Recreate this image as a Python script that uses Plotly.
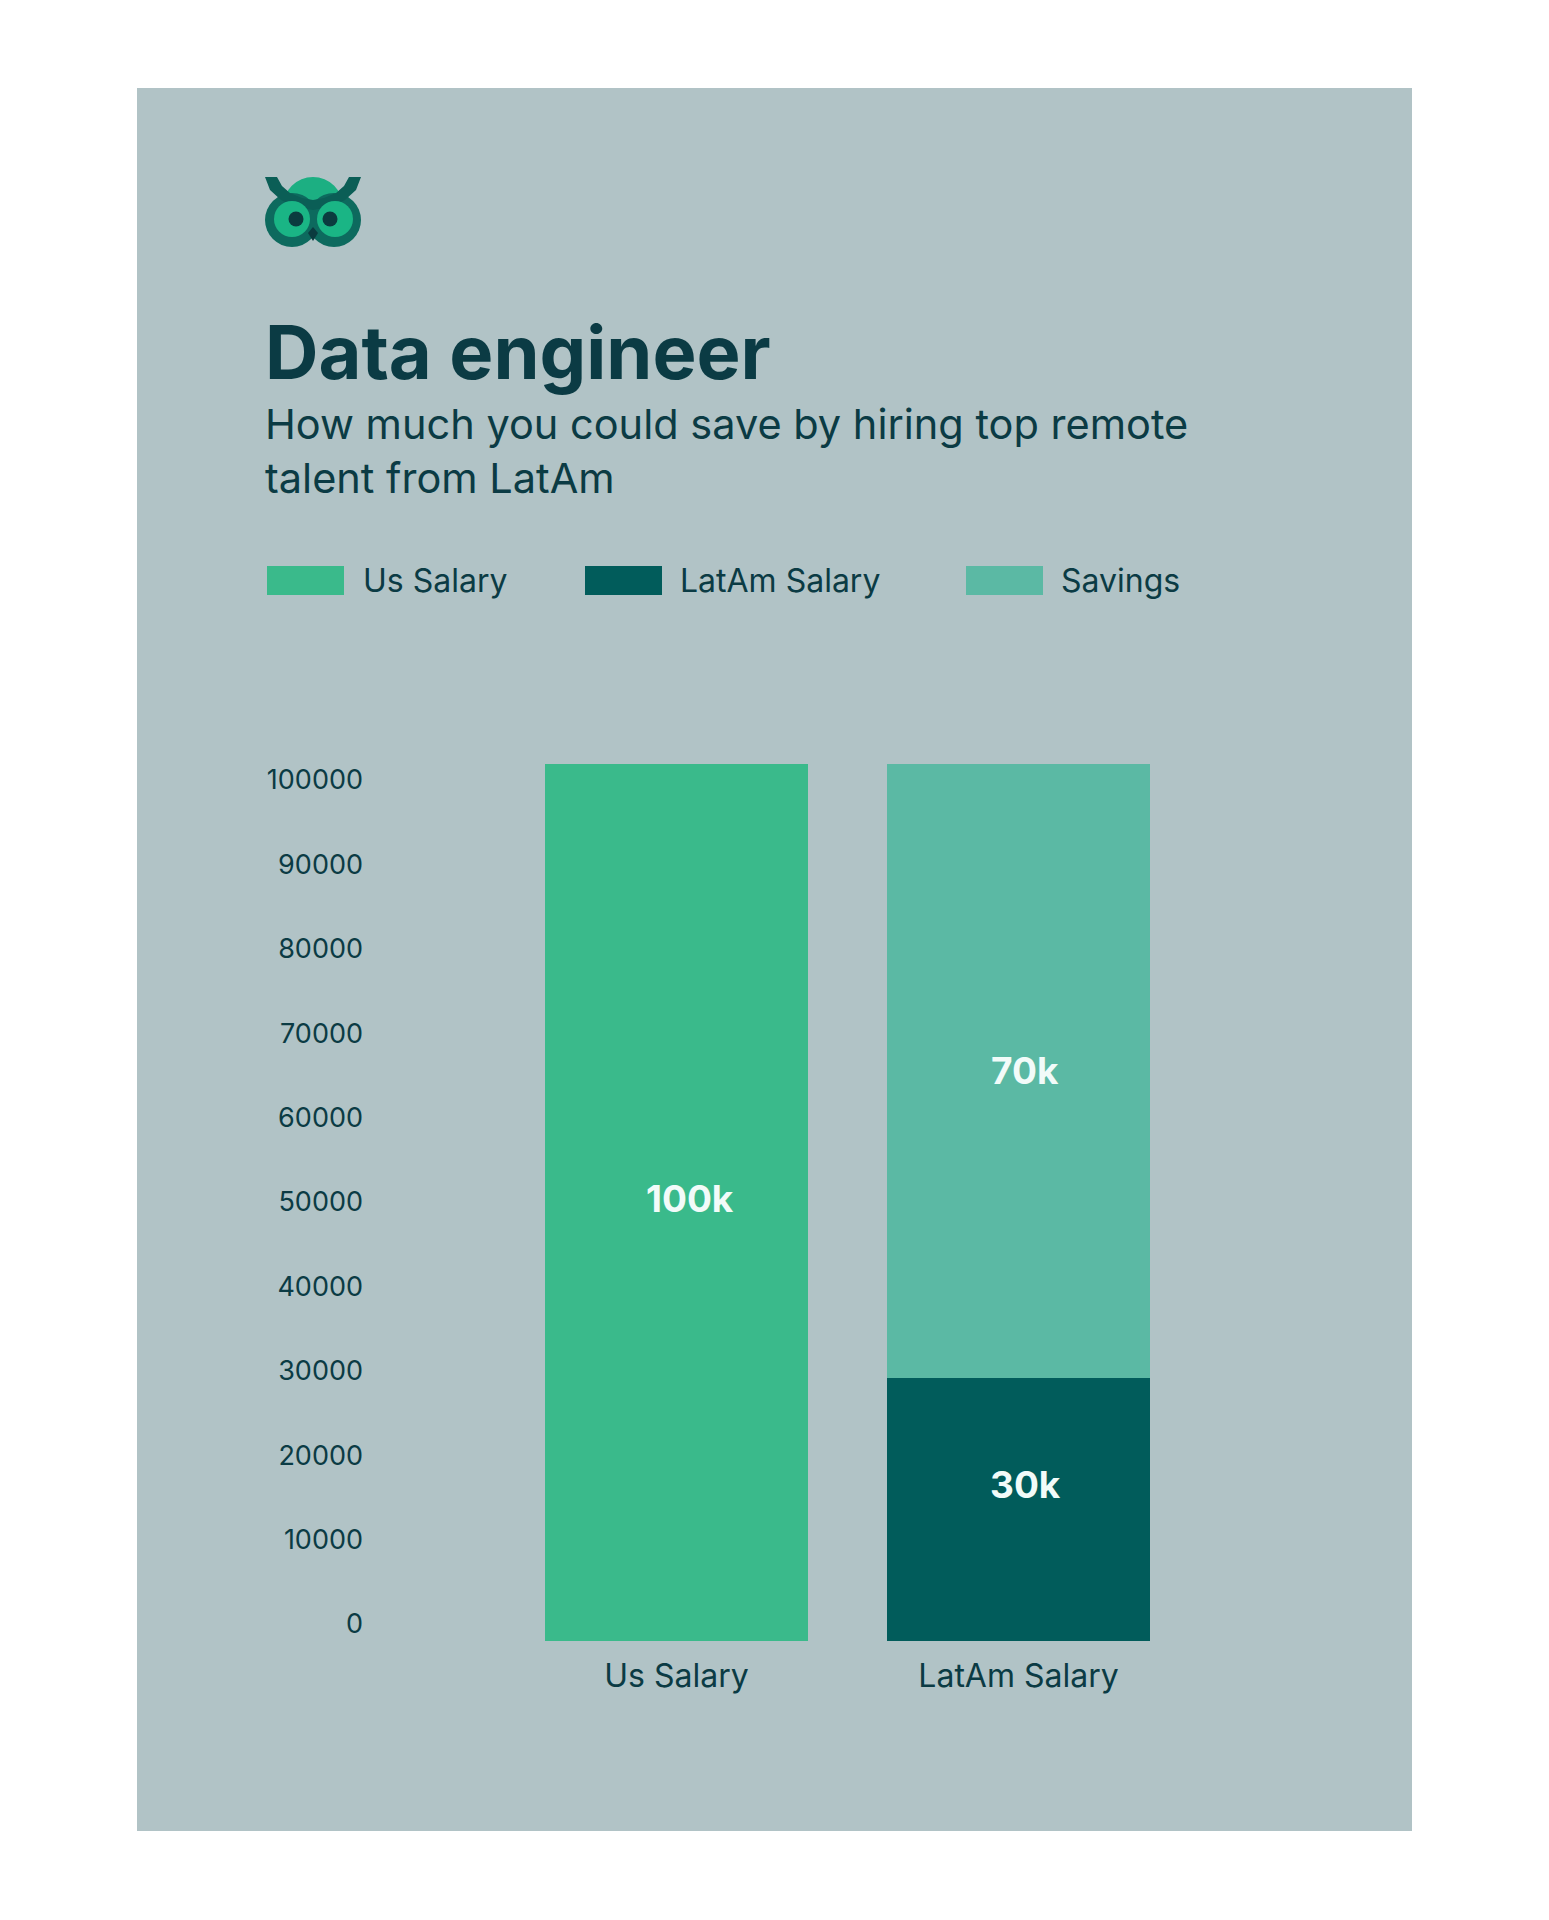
import plotly.graph_objects as go

# chart data
categories = ["Us Salary", "LatAm Salary"]
us_salary = [100000]
latam_salary = [30000]
savings = [70000]
us_text = ["100k"]
latam_text = ["30k"]
savings_text = ["70k"]
y_ticks = [0, 10000, 20000, 30000, 40000, 50000, 60000, 70000, 80000, 90000, 100000]
legend_names = ["Us Salary", "LatAm Salary", "Savings"]

# colours
PANEL = "#b1c3c6"
C_US = "#3aba8b"
C_LATAM = "#015c5b"
C_SAV = "#5bb9a4"
INK = "#0b3b44"
FONT = "Inter"

# figure sits inside the page's 8px body margin
W, H, OFF = 1533, 1904, 8


def px(x):
    return (x - OFF) / W


def py(y):
    return 1 - (y - OFF) / H


def path(points):
    return "M " + " L ".join(f"{px(x):.5f},{py(y):.5f}" for x, y in points) + " Z"


def circle(cx, cy, r, color):
    return dict(type="circle", xref="paper", yref="paper", layer="above",
                x0=px(cx - r), x1=px(cx + r), y0=py(cy + r), y1=py(cy - r),
                fillcolor=color, line_width=0)


fig = go.Figure()
fig.add_trace(go.Bar(x=[categories[0]], y=us_salary, name=legend_names[0], marker_color=C_US))
fig.add_trace(go.Bar(x=[categories[1]], y=latam_salary, name=legend_names[1], marker_color=C_LATAM))
fig.add_trace(go.Bar(x=[categories[1]], y=savings, name=legend_names[2], marker_color=C_SAV))
fig.update_traces(marker_line_width=0, hoverinfo="skip")
# carrier for the tick axis
fig.add_trace(go.Scatter(x=[], y=[], yaxis="y2", showlegend=False, hoverinfo="skip"))

# plot area in page pixels
plot_l, plot_r, plot_t, plot_b = 380, 1360, 764, 1641
c0, c1 = 676.5, 1018.5          # bar centres
step = c1 - c0
tick0_y, tick100_y = 1624, 780   # where labels 0 and 100000 sit
per_px = (y_ticks[-1] - y_ticks[0]) / (tick0_y - tick100_y)

shapes = [dict(type="rect", xref="paper", yref="paper", layer="below",
               x0=px(137), x1=px(1412), y0=py(1831), y1=py(88),
               fillcolor=PANEL, line_width=0)]

# value labels, placed at segment middles (a little off-centre as in the source)
bar_font = dict(family=FONT, size=37, color="#f2fbf9", weight=700)
annotations = [
    dict(text=us_text[0], x=categories[0], y=us_salary[0] / 2, xshift=13, yshift=4,
         showarrow=False, font=bar_font),
    dict(text=latam_text[0], x=categories[1], y=latam_salary[0] / 2, xshift=7, yshift=25,
         showarrow=False, font=bar_font),
    dict(text=savings_text[0], x=categories[1], y=latam_salary[0] + savings[0] / 2, xshift=6,
         showarrow=False, font=bar_font),
]

# legend swatches + labels
leg_sw = [267, 585, 966]
leg_tx = [361, 678, 1059]
for name, col, sx, tx in zip(legend_names, [C_US, C_LATAM, C_SAV], leg_sw, leg_tx):
    shapes.append(dict(type="rect", xref="paper", yref="paper", layer="above",
                       x0=px(sx), x1=px(sx + 77), y0=py(595), y1=py(566),
                       fillcolor=col, line_width=0))
    annotations.append(dict(text=name, x=px(tx), y=py(580), xref="paper", yref="paper",
                            xanchor="left", yanchor="middle", showarrow=False,
                            font=dict(family=FONT, size=32, color=INK)))

# owl logo
shapes += [
    circle(313, 207, 30, "#1caf82"),
    circle(292, 220, 27, "#0d6a5e"),
    circle(334, 220, 27, "#0d6a5e"),
    dict(type="path", xref="paper", yref="paper", layer="above", line_width=0, fillcolor="#0b5e56",
         path=path([(265, 177), (277, 177), (282, 186), (290, 193), (302, 198), (313, 200),
                    (313, 210), (296, 207), (281, 200), (270, 190)])),
    dict(type="path", xref="paper", yref="paper", layer="above", line_width=0, fillcolor="#0b5e56",
         path=path([(361, 177), (349, 177), (344, 186), (336, 193), (324, 198), (313, 200),
                    (313, 210), (330, 207), (345, 200), (356, 190)])),
    circle(292, 219, 18, "#1ab585"),
    circle(335, 219, 18, "#1ab585"),
    circle(296, 219, 7.5, "#0b3b3f"),
    circle(330, 219, 7.5, "#0b3b3f"),
    dict(type="path", xref="paper", yref="paper", layer="above", line_width=0, fillcolor="#0b3b3f",
         path=path([(313, 227), (318, 233), (313, 241), (308, 233)])),
]

annotations += [
    dict(text="Data engineer", x=px(263), y=py(352), xref="paper", yref="paper",
         xanchor="left", yanchor="middle", showarrow=False,
         font=dict(family=FONT, size=74, color=INK, weight=700)),
    dict(text="How much you could save by hiring top remote<br>talent from LatAm",
         x=px(263), y=py(451), xref="paper", yref="paper", align="left",
         xanchor="left", yanchor="middle", showarrow=False,
         font=dict(family=FONT, size=41.5, color=INK)),
]

fig.update_layout(
    width=W, height=H,
    margin=dict(l=0, r=0, t=0, b=0),
    paper_bgcolor="white",
    plot_bgcolor="rgba(0,0,0,0)",
    barmode="stack",
    bargap=0.23,
    showlegend=False,
    shapes=shapes,
    annotations=annotations,
    font=dict(family=FONT, color=INK),
    xaxis=dict(domain=[px(plot_l), px(plot_r)],
               range=[-(c0 - plot_l) / step, 1 + (plot_r - c1) / step],
               categoryorder="array", categoryarray=categories,
               showgrid=False, zeroline=False, showline=False, ticks="",
               tickfont=dict(family=FONT, size=32, color=INK), ticklabelstandoff=13),
    yaxis=dict(domain=[py(plot_b), py(plot_t)], range=[y_ticks[0], y_ticks[-1]],
               showgrid=False, zeroline=False, showline=False, showticklabels=False),
    yaxis2=dict(overlaying="y", side="left", anchor="x",
                range=[y_ticks[0] - (plot_b - tick0_y) * per_px,
                       y_ticks[-1] + (tick100_y - plot_t) * per_px],
                tickmode="array", tickvals=y_ticks, ticktext=[str(v) for v in y_ticks],
                showgrid=False, zeroline=False, showline=False, ticks="",
                tickfont=dict(family=FONT, size=27, color=INK), ticklabelstandoff=16),
)

fig.write_html("out.html")
